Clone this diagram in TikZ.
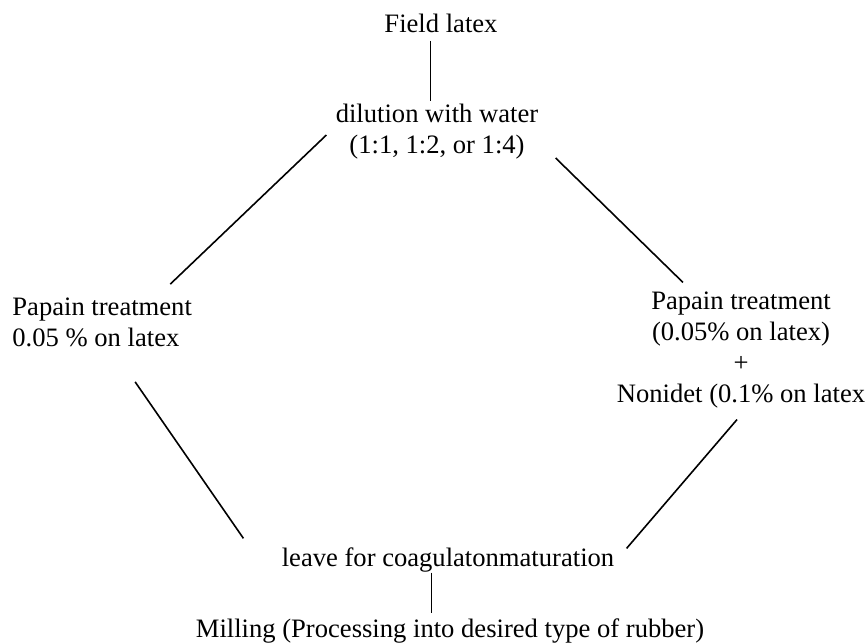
\documentclass[tikz,border=0pt]{standalone}
\usepackage{fontspec}
\setmainfont{Liberation Serif}
\usepackage{tikz}
\usetikzlibrary{positioning}

\begin{document}
\begin{tikzpicture}[
  x=0.5pt, y=-0.5pt,
  every node/.style={font=\fontsize{13.3}{15.5}\selectfont, inner sep=0pt},
  stage/.style={align=center},
  link/.style={line width=0.8pt},
  stem/.style={line width=0.5pt},
]
  \useasboundingbox (0,0) rectangle (866,643);

  \node[stage] (field) at (441,23)  {Field latex};
  \node[stage] (dil)   at (437,132) {dilution with water\\(1:1, 1:2, or 1:4)};
  \node[align=left, anchor=west] (lp) at (12,322) {Papain treatment\\0.05 \% on latex};
  \node[stage] (rp)    at (741,350) {Papain treatment\\(0.05\% on latex)\\+\\Nonidet (0.1\% on latex};
  \node[stage] (leave) at (448,560) {leave for coagulatonmaturation};
  \node[stage] (mill)  at (450,631) {Milling (Processing into desired type of rubber)};

  \draw[stem] ([shift={(-11,8)}]field.south) -- ([shift={(-7,-3)}]dil.north);
  \draw[link] ([shift={(-9,3)}]dil.west) -- ([shift={(-22,-13)}]lp.north east);
  \draw[link] ([shift={(17,-2)}]dil.south east) -- ([shift={(-58,-9)}]rp.north);
  \draw[link] ([shift={(33,35)}]lp.south) -- ([shift={(-38,-9)}]leave.north west);
  \draw[link] ([shift={(-4,11)}]rp.south) -- ([shift={(12,1)}]leave.north east);
  \draw[stem] ([shift={(-17,0)}]leave.south) -- ([shift={(-19,-5)}]mill.north);
\end{tikzpicture}
\end{document}
